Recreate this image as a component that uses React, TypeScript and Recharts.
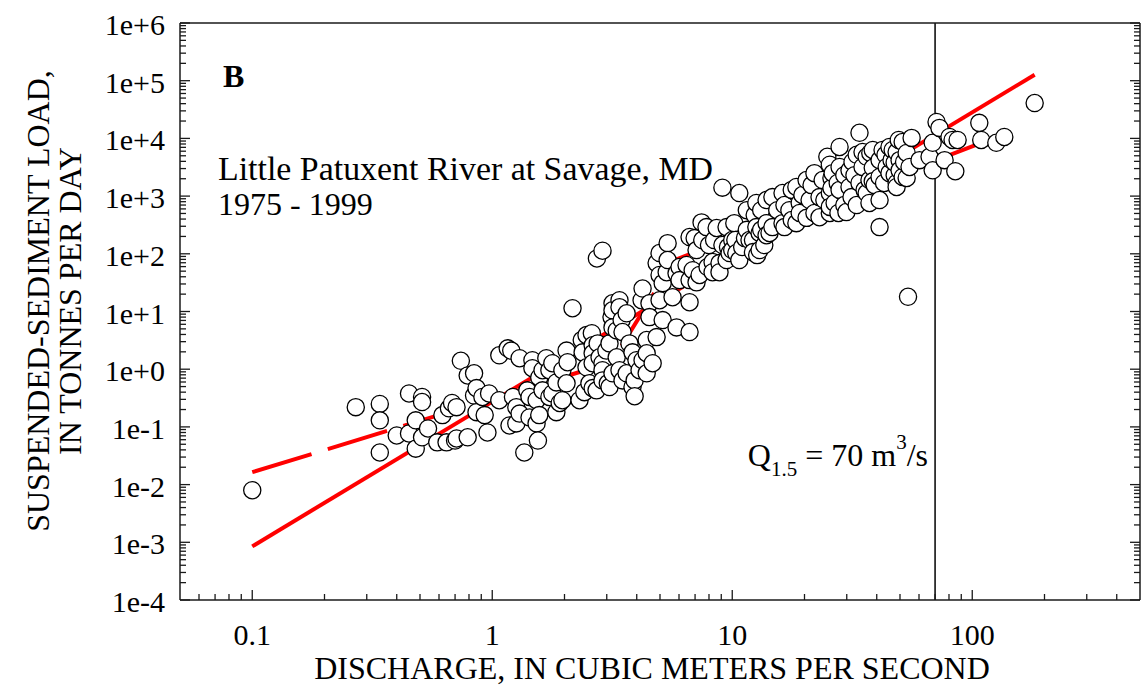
import React from "react";
import { ScatterChart, Scatter, XAxis, YAxis, ReferenceLine } from "recharts";

const SERIF = '"Liberation Serif", "Times New Roman", Times, serif';
const INK = "#1a1a1a";
const FIT_RED = "#ff0000";

// [discharge m3/s, suspended-sediment load t/d]
const lowFlowObs: [number, number][] = [
  [0.1, 0.008], [0.27, 0.22], [0.34, 0.25], [0.34, 0.13], [0.34, 0.036],
  [0.4, 0.071], [0.45, 0.38], [0.45, 0.077], [0.48, 0.13], [0.48, 0.042],
  [0.51, 0.33], [0.51, 0.27], [0.51, 0.066], [0.54, 0.094], [0.59, 0.054],
  [0.62, 0.16], [0.645, 0.054], [0.66, 0.21], [0.68, 0.26], [0.7, 0.058],
  [0.71, 0.22], [0.71, 0.063], [0.74, 1.4], [0.79, 0.78], [0.79, 0.066],
  [0.84, 0.85], [0.84, 0.35], [0.86, 0.47], [0.86, 0.18], [0.91, 0.33],
  [0.93, 0.16], [0.955, 0.08], [0.97, 0.38],
];

const risingObs: [number, number][] = [
  [1.07, 1.74], [1.07, 0.29], [1.16, 2.3], [1.2, 2.1], [1.18, 0.106],
  [1.22, 0.33], [1.26, 0.22], [1.26, 0.115], [1.3, 1.55], [1.3, 0.17],
  [1.36, 0.036], [1.4, 0.43], [1.43, 0.33], [1.43, 0.146], [1.47, 1.43],
  [1.47, 1.04], [1.53, 0.29], [1.53, 0.115], [1.55, 0.058], [1.57, 0.72],
  [1.57, 0.16], [1.62, 0.96], [1.62, 0.43], [1.68, 1.55], [1.73, 0.96],
  [1.73, 0.33], [1.78, 1.27], [1.78, 0.38], [1.85, 0.59], [1.85, 0.18],
  [1.91, 0.26], [1.96, 0.96], [1.96, 0.29], [2.04, 2.1], [2.04, 0.57],
  [2.06, 1.32], [2.16, 11.4], [2.31, 0.29], [2.36, 3.2], [2.38, 1.96],
  [2.42, 0.4], [2.47, 3.9], [2.47, 1.08], [2.54, 0.57], [2.6, 4.2],
  [2.62, 2.6], [2.62, 1.89], [2.62, 1.27], [2.62, 0.47], [2.72, 0.43],
  [2.73, 83], [2.75, 2.8], [2.8, 1.61], [2.88, 113], [2.88, 1.27],
  [2.88, 0.96], [2.88, 0.64],
];

const steepObs: [number, number][] = [
  [2.99, 2.1], [3.03, 0.57], [3.08, 2.8], [3.08, 0.49], [3.14, 8.0],
  [3.17, 13.9], [3.17, 10.5], [3.17, 5.3], [3.17, 0.85], [3.3, 4.7],
  [3.3, 1.61], [3.39, 15.7], [3.39, 11.9], [3.39, 0.96], [3.46, 7.1],
  [3.49, 4.4], [3.49, 0.64], [3.63, 9.3], [3.63, 0.85], [3.73, 2.8],
  [3.84, 1.96], [3.84, 0.49], [3.92, 0.64], [3.92, 0.34], [3.99, 1.43],
  [4.11, 0.96], [4.19, 15.7], [4.23, 25], [4.23, 1.43], [4.4, 3.2],
  [4.4, 1.89], [4.4, 0.85], [4.52, 13.9], [4.52, 8.0], [4.66, 1.27],
  [4.84, 69], [4.84, 3.6], [4.98, 103], [4.98, 43], [4.98, 15.7],
  [5.13, 31], [5.13, 7.1], [5.33, 48], [5.38, 153], [5.38, 78],
  [5.64, 17.7], [5.86, 46], [5.86, 5.3],
];

const moderateObs: [number, number][] = [
  [6.03, 59], [6.03, 35], [6.45, 64], [6.64, 195], [6.64, 35],
  [6.64, 14.5], [6.64, 4.4], [6.84, 52], [6.97, 187], [7.1, 116],
  [7.1, 32], [7.31, 43], [7.45, 350], [7.5, 173], [7.81, 290],
  [7.89, 59], [8.0, 142], [8.28, 72], [8.28, 48], [8.4, 173],
  [8.61, 280], [8.85, 69], [8.85, 48], [9.1, 1400], [9.1, 142],
  [9.47, 290], [9.47, 78], [9.6, 131], [9.75, 103], [10.0, 173],
  [10.0, 116], [10.2, 340], [10.3, 173], [10.4, 103], [10.7, 1130],
  [10.7, 78], [11.0, 131], [11.3, 187], [11.5, 570], [11.5, 260],
  [11.8, 173],
];

const highObs: [number, number][] = [
  [12.2, 173], [12.2, 107], [12.4, 470], [12.6, 760], [12.6, 290],
  [12.7, 95], [13.0, 230], [13.0, 116], [13.2, 570], [13.2, 260],
  [13.6, 142], [13.9, 855], [13.9, 340], [13.9, 210], [14.3, 230],
  [14.7, 960], [14.7, 290], [15.4, 570], [16.2, 1130], [16.2, 340],
  [16.5, 700], [16.5, 290], [17.3, 570], [17.7, 1280], [17.7, 385],
  [18.5, 1440], [18.5, 340], [19.1, 760], [19.1, 510], [19.6, 1045],
  [20.4, 1900], [20.4, 420], [21.0, 855], [21.4, 1550], [22.0, 2500],
  [22.0, 510], [23.1, 960], [23.1, 430], [23.8, 1900], [24.2, 855],
  [24.9, 4800], [25.5, 3500], [25.5, 1130], [25.5, 510], [25.5, 650],
  [25.9, 2060], [25.9, 1380], [26.2, 2500], [26.7, 760], [27.5, 1690],
  [27.7, 510],
];

const floodObs: [number, number][] = [
  [28.0, 7100], [28.0, 3200], [28.0, 1280], [29.3, 2300], [29.3, 700],
  [29.9, 530], [30.8, 2800], [30.8, 1440], [31.4, 960], [31.7, 3900],
  [32.3, 2300], [33.0, 5200], [33.0, 700], [33.9, 12500], [33.9, 1690],
  [34.9, 5800], [34.9, 3200], [35.6, 1280], [36.3, 4800], [36.3, 1130],
  [37.3, 1900], [37.3, 760], [37.6, 5600], [38.5, 6300], [38.5, 3100],
  [38.5, 1800], [39.2, 1550], [41.1, 4200], [41.1, 2150], [41.1, 855],
  [41.1, 290], [42.3, 6300], [42.9, 1690], [43.5, 5200], [44.0, 3200],
  [45.2, 2500], [45.2, 7100], [46.1, 4200], [46.6, 6300], [47.5, 2300],
  [47.5, 3800], [48.4, 1690], [48.4, 5800], [48.4, 1440], [49.4, 9400],
  [49.8, 4200], [49.8, 2800], [51.3, 8700], [51.3, 2150], [52, 3900],
  [53.3, 5600], [53.3, 2060], [54, 18], [54.8, 3200], [55.9, 10200],
  [60.3, 4200], [66.4, 4800], [68.4, 8400], [68.4, 2800], [71, 19300],
  [73, 15200], [76.7, 4200], [80.4, 10600], [82.8, 9400], [85, 2700],
  [86.9, 9400], [107, 18600], [109, 9400], [126, 8400], [136, 10600],
  [182, 41000],
];

// fitted rating curves
const segmentedFit: [number, number][] = [[0.1, 0.0164], [3.14, 1.32], [5.75, 78], [155, 14600]];
const powerFit: [number, number][] = [[0.1, 0.00085], [182, 127000]];

const Q15 = 70;
const X_DOMAIN: [number, number] = [0.05, 500];
const Y_DOMAIN: [number, number] = [1e-4, 1e6];

const toPoints = (rows: [number, number][]) => rows.map(([q, load]) => ({ q, load }));

// decade ticks plus 2..9 minors inside the domain
function logTicks([lo, hi]: [number, number]) {
  const out: number[] = [];
  for (let e = Math.floor(Math.log10(lo)); e <= Math.ceil(Math.log10(hi)); e++) {
    for (let k = 1; k <= 9; k++) {
      const v = Number((k * Math.pow(10, e)).toPrecision(6));
      if (k === 1 ? v >= lo && v <= hi : v > lo * 1.0001 && v < hi * 0.9999) out.push(v);
    }
  }
  return out;
}

const isMajor = (v: number) => Math.abs(Math.log10(v) - Math.round(Math.log10(v))) < 1e-6;
const tickLen = (v: number) => (isMajor(v) ? 10 : 6);
const fmtY = (v: number) => {
  const e = Math.round(Math.log10(v));
  return `1e${e >= 0 ? "+" : "-"}${Math.abs(e)}`;
};

type TickProps = { x?: number; y?: number; payload?: { value: number } };

function BottomTick({ x = 0, y = 0, payload }: TickProps) {
  const v = payload ? payload.value : 1;
  return (
    <g>
      <line x1={x} x2={x} y1={y} y2={y - tickLen(v)} stroke={INK} strokeWidth={1.3} />
      {isMajor(v) && (
        <text x={x} y={y + 45} textAnchor="middle" fontFamily={SERIF} fontSize={30} fill="#000">
          {String(v)}
        </text>
      )}
    </g>
  );
}

function TopTick({ x = 0, y = 0, payload }: TickProps) {
  const v = payload ? payload.value : 1;
  return <line x1={x} x2={x} y1={y} y2={y + tickLen(v)} stroke={INK} strokeWidth={1.3} />;
}

function LeftTick({ x = 0, y = 0, payload }: TickProps) {
  const v = payload ? payload.value : 1;
  return (
    <g>
      <line x1={x} x2={x + tickLen(v)} y1={y} y2={y} stroke={INK} strokeWidth={1.3} />
      {isMajor(v) && (
        <text x={x - 15} y={y + 12} textAnchor="end" fontFamily={SERIF} fontSize={30} fill="#000">
          {fmtY(v)}
        </text>
      )}
    </g>
  );
}

function RightTick({ x = 0, y = 0, payload }: TickProps) {
  const v = payload ? payload.value : 1;
  return <line x1={x} x2={x - tickLen(v)} y1={y} y2={y} stroke={INK} strokeWidth={1.3} />;
}

const OpenCircle = (props: any) => (
  <circle cx={props.cx} cy={props.cy} r={8.6} fill="#fff" stroke="#000" strokeWidth={1.3} />
);
const NoMarker = () => <g />;

export default function App() {
  const observations = toPoints([
    ...lowFlowObs,
    ...risingObs,
    ...steepObs,
    ...moderateObs,
    ...highObs,
    ...floodObs,
  ]);
  const xTicks = logTicks(X_DOMAIN);
  const yTicks = logTicks(Y_DOMAIN);
  const frame = { stroke: INK, strokeWidth: 1.5 };

  return (
    <div style={{ position: "absolute", left: 0, top: 0, width: 1148, height: 692, background: "#fff" }}>
      <ScatterChart width={1148} height={692} margin={{ top: 22, right: 7, bottom: 91, left: 179 }}>
        <XAxis
          type="number"
          dataKey="q"
          scale="log"
          domain={X_DOMAIN}
          allowDataOverflow
          ticks={xTicks}
          interval={0}
          height={1}
          tickSize={0}
          tickMargin={0}
          tickLine={false}
          axisLine={frame}
          tick={(p: any) => <BottomTick {...p} />}
        />
        <XAxis
          xAxisId="top"
          orientation="top"
          type="number"
          scale="log"
          domain={X_DOMAIN}
          allowDataOverflow
          ticks={xTicks}
          interval={0}
          height={1}
          tickSize={0}
          tickMargin={0}
          tickLine={false}
          axisLine={frame}
          tick={(p: any) => <TopTick {...p} />}
        />
        <YAxis
          type="number"
          dataKey="load"
          scale="log"
          domain={Y_DOMAIN}
          allowDataOverflow
          ticks={yTicks}
          interval={0}
          width={1}
          tickSize={0}
          tickMargin={0}
          tickLine={false}
          axisLine={frame}
          tick={(p: any) => <LeftTick {...p} />}
        />
        <YAxis
          yAxisId="right"
          orientation="right"
          type="number"
          scale="log"
          domain={Y_DOMAIN}
          allowDataOverflow
          ticks={yTicks}
          interval={0}
          width={1}
          tickSize={0}
          tickMargin={0}
          tickLine={false}
          axisLine={frame}
          tick={(p: any) => <RightTick {...p} />}
        />
        <Scatter
          data={toPoints(segmentedFit)}
          fill="none"
          line={{ stroke: FIT_RED, strokeWidth: 4, strokeDasharray: "62 17" }}
          shape={NoMarker}
          isAnimationActive={false}
        />
        <Scatter
          data={toPoints(powerFit)}
          fill="none"
          line={{ stroke: FIT_RED, strokeWidth: 4 }}
          shape={NoMarker}
          isAnimationActive={false}
        />
        <Scatter data={observations} fill="#fff" shape={OpenCircle} isAnimationActive={false} />
        <ReferenceLine x={Q15} stroke="#000" strokeWidth={1.5} />
      </ScatterChart>

      <svg
        width={1148}
        height={692}
        style={{ position: "absolute", left: 0, top: 0, pointerEvents: "none" }}
        fontFamily={SERIF}
        fill="#000"
      >
        <text x={223} y={87} fontSize={32} fontWeight="bold">B</text>
        <text x={218} y={180} fontSize={33} textLength={495} lengthAdjust="spacingAndGlyphs">
          Little Patuxent River at Savage, MD
        </text>
        <text x={218} y={215} fontSize={32}>1975 - 1999</text>
        <text x={928} y={466} fontSize={32} textAnchor="end">
          Q<tspan fontSize={21} dy={10}>1.5</tspan>
          <tspan dy={-10}> = 70 m</tspan>
          <tspan fontSize={21} dy={-17}>3</tspan>
          <tspan dy={17}>/s</tspan>
        </text>
        <text x={652} y={679} fontSize={32} textAnchor="middle">
          DISCHARGE, IN CUBIC METERS PER SECOND
        </text>
        <text x={49} y={301} fontSize={32} textAnchor="middle" transform="rotate(-90 49 301)">
          SUSPENDED-SEDIMENT LOAD,
        </text>
        <text x={81} y={301} fontSize={32} textAnchor="middle" transform="rotate(-90 81 301)">
          IN TONNES PER DAY
        </text>
      </svg>
    </div>
  );
}
